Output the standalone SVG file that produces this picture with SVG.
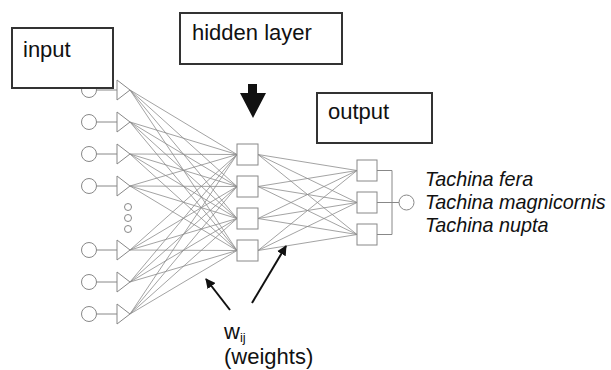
<svg xmlns="http://www.w3.org/2000/svg" width="611" height="370" viewBox="0 0 611 370">
<style>
.lbl{font-family:"Liberation Sans",Arial,sans-serif;font-size:22px;fill:#111}
.sp{font-family:"Liberation Sans",Arial,sans-serif;font-size:19.8px;font-style:italic;fill:#111}
.box{fill:#fff;stroke:#333;stroke-width:2}
.conn line{stroke:#8c8c8c;stroke-width:0.8}
.neu{fill:#fff;stroke:#888;stroke-width:1}
.wire{stroke:#888;stroke-width:1;fill:none}
.arr{stroke:#111;stroke-width:2;marker-end:url(#ah)}
</style>
<defs>
<marker id="ah" viewBox="0 0 10 10" refX="9" refY="5" markerWidth="5" markerHeight="5" orient="auto" markerUnits="strokeWidth">
<path d="M0,0 L10,5 L0,10 z" fill="#111"/>
</marker>
</defs>
<rect width="611" height="370" fill="#fff"/>

<g id="connectors" class="conn">
<line x1="130" y1="90" x2="237" y2="154.5"/><line x1="130" y1="90" x2="237" y2="186.5"/><line x1="130" y1="90" x2="237" y2="218.5"/><line x1="130" y1="90" x2="237" y2="250.5"/>
<line x1="130" y1="122" x2="237" y2="154.5"/><line x1="130" y1="122" x2="237" y2="186.5"/><line x1="130" y1="122" x2="237" y2="218.5"/><line x1="130" y1="122" x2="237" y2="250.5"/>
<line x1="130" y1="154" x2="237" y2="154.5"/><line x1="130" y1="154" x2="237" y2="186.5"/><line x1="130" y1="154" x2="237" y2="218.5"/><line x1="130" y1="154" x2="237" y2="250.5"/>
<line x1="130" y1="186" x2="237" y2="154.5"/><line x1="130" y1="186" x2="237" y2="186.5"/><line x1="130" y1="186" x2="237" y2="218.5"/><line x1="130" y1="186" x2="237" y2="250.5"/>
<line x1="130" y1="250" x2="237" y2="154.5"/><line x1="130" y1="250" x2="237" y2="186.5"/><line x1="130" y1="250" x2="237" y2="218.5"/><line x1="130" y1="250" x2="237" y2="250.5"/>
<line x1="130" y1="282" x2="237" y2="154.5"/><line x1="130" y1="282" x2="237" y2="186.5"/><line x1="130" y1="282" x2="237" y2="218.5"/><line x1="130" y1="282" x2="237" y2="250.5"/>
<line x1="130" y1="314" x2="237" y2="154.5"/><line x1="130" y1="314" x2="237" y2="186.5"/><line x1="130" y1="314" x2="237" y2="218.5"/><line x1="130" y1="314" x2="237" y2="250.5"/>
<line x1="258" y1="154.5" x2="357" y2="170.5"/><line x1="258" y1="154.5" x2="357" y2="202.5"/><line x1="258" y1="154.5" x2="357" y2="234.5"/>
<line x1="258" y1="186.5" x2="357" y2="170.5"/><line x1="258" y1="186.5" x2="357" y2="202.5"/><line x1="258" y1="186.5" x2="357" y2="234.5"/>
<line x1="258" y1="218.5" x2="357" y2="170.5"/><line x1="258" y1="218.5" x2="357" y2="202.5"/><line x1="258" y1="218.5" x2="357" y2="234.5"/>
<line x1="258" y1="250.5" x2="357" y2="170.5"/><line x1="258" y1="250.5" x2="357" y2="202.5"/><line x1="258" y1="250.5" x2="357" y2="234.5"/>
</g>

<g id="input-layer">
<g id="in1"><circle class="neu" cx="89" cy="90" r="7.5"/><line class="wire" x1="96.5" y1="90" x2="117" y2="90"/><polygon class="neu" points="117,80 117,100 130,90"/></g>
<g id="in2"><circle class="neu" cx="89" cy="122" r="7.5"/><line class="wire" x1="96.5" y1="122" x2="117" y2="122"/><polygon class="neu" points="117,112 117,132 130,122"/></g>
<g id="in3"><circle class="neu" cx="89" cy="154" r="7.5"/><line class="wire" x1="96.5" y1="154" x2="117" y2="154"/><polygon class="neu" points="117,144 117,164 130,154"/></g>
<g id="in4"><circle class="neu" cx="89" cy="186" r="7.5"/><line class="wire" x1="96.5" y1="186" x2="117" y2="186"/><polygon class="neu" points="117,176 117,196 130,186"/></g>
<g id="dots"><circle class="neu" cx="128" cy="207" r="3.5"/><circle class="neu" cx="128" cy="218" r="3.5"/><circle class="neu" cx="128" cy="229" r="3.5"/></g>
<g id="in5"><circle class="neu" cx="89" cy="250" r="7.5"/><line class="wire" x1="96.5" y1="250" x2="117" y2="250"/><polygon class="neu" points="117,240 117,260 130,250"/></g>
<g id="in6"><circle class="neu" cx="89" cy="282" r="7.5"/><line class="wire" x1="96.5" y1="282" x2="117" y2="282"/><polygon class="neu" points="117,272 117,292 130,282"/></g>
<g id="in7"><circle class="neu" cx="89" cy="314" r="7.5"/><line class="wire" x1="96.5" y1="314" x2="117" y2="314"/><polygon class="neu" points="117,304 117,324 130,314"/></g>
</g>

<g id="hidden-layer">
<rect id="h1" class="neu" x="237" y="144" width="21" height="21"/>
<rect id="h2" class="neu" x="237" y="176" width="21" height="21"/>
<rect id="h3" class="neu" x="237" y="208" width="21" height="21"/>
<rect id="h4" class="neu" x="237" y="240" width="21" height="21"/>
</g>

<g id="output-layer">
<rect id="o1" class="neu" x="357" y="160" width="20" height="21"/>
<rect id="o2" class="neu" x="357" y="192" width="20" height="21"/>
<rect id="o3" class="neu" x="357" y="224" width="20" height="21"/>
<path class="wire" d="M377,170.5 H392 V234.5 H377 M377,202.5 H399"/>
<circle class="neu" cx="406.5" cy="202.5" r="7.5"/>
</g>

<g id="input-box"><rect class="box" x="12" y="28" width="101" height="60"/><text class="lbl" x="23" y="57">input</text></g>
<g id="hidden-box"><rect class="box" x="180" y="13" width="162" height="51"/><text class="lbl" x="192" y="40">hidden layer</text></g>
<g id="output-box"><rect class="box" x="317" y="93" width="115" height="50"/><text class="lbl" x="328" y="119">output</text></g>

<g id="big-arrow"><polygon points="248,84 257,84 257,93 266,93 253,118 240,93 248,93" fill="#111"/></g>

<g id="species">
<text class="sp" x="425" y="186">Tachina fera</text>
<text class="sp" x="425" y="209">Tachina magnicornis</text>
<text class="sp" x="425" y="232">Tachina nupta</text>
</g>

<g id="weights">
<line class="arr" x1="230" y1="310" x2="206" y2="279"/>
<line class="arr" x1="252" y1="303" x2="286" y2="246"/>
<text class="lbl" x="224" y="339" font-size="20">w<tspan font-size="13" dy="3">ij</tspan></text>
<text class="lbl" x="224" y="364">(weights)</text>
</g>
</svg>
